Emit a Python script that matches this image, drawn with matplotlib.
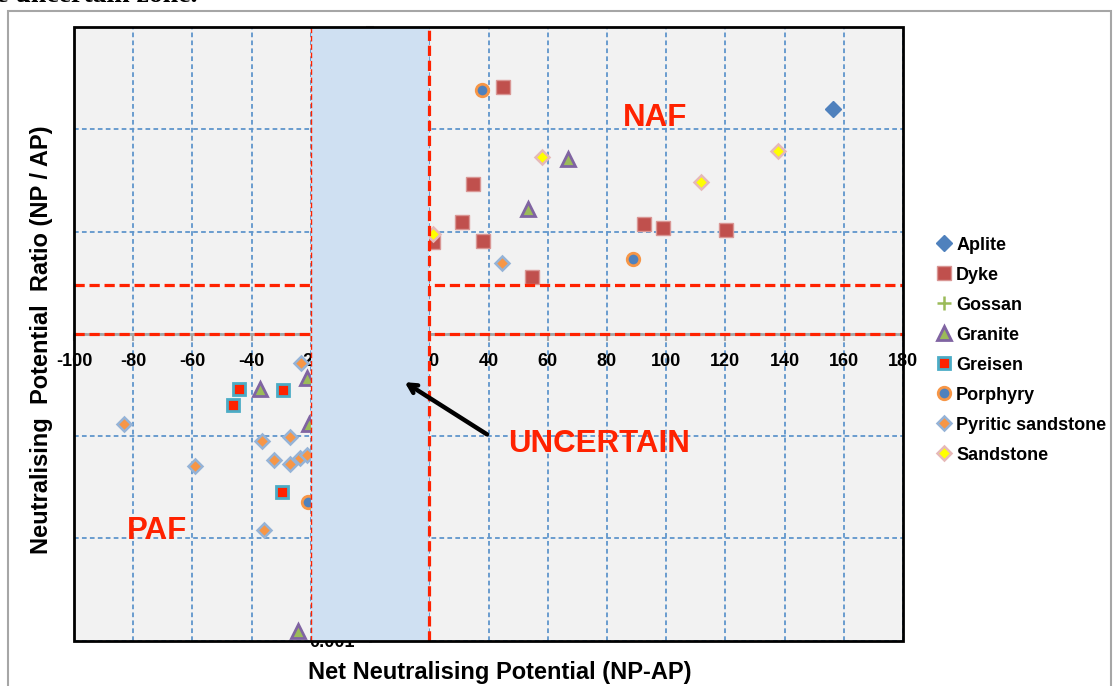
import matplotlib
matplotlib.use('Agg')
import matplotlib.pyplot as plt
from matplotlib.patches import Rectangle
from matplotlib.lines import Line2D
from matplotlib.ticker import FixedLocator, FuncFormatter, NullLocator

plt.rcParams['font.family'] = ['Liberation Sans', 'DejaVu Sans']
plt.rcParams['font.weight'] = 'bold'
plt.rcParams['axes.labelweight'] = 'bold'
plt.rcParams['axes.unicode_minus'] = False

# ---------------- data ----------------
x_ticks = [-100, -80, -60, -40, -20, 0, 20, 40, 60, 80, 100, 120, 140, 160, 180]
y_ticks = [0.001, 0.01, 0.1, 1, 10, 100, 1000]

aplite_x = [156.5]
aplite_y = [158]

dyke_x = [44.9, 34.9, 31.1, 92.6, 98.9, 120.3, 21.1, 38.0, 54.7]
dyke_y = [257, 29, 12.3, 11.9, 10.9, 10.4, 7.9, 8.1, 3.57]

gossan_x = []
gossan_y = []

granite_x = [66.7, 53.3, -21.4, -37.3, -20.5, -24.2]
granite_y = [51.6, 16.8, 0.372, 0.286, 0.132, 0.00125]

greisen_x = [-44.2, -29.4, -46.4, -29.8]
greisen_y = [0.29, 0.28, 0.201, 0.0285]

porphyry_x = [37.7, 88.7, -20.9]
porphyry_y = [243, 5.43, 0.0225]

pyritic_x = [44.4, -23.4, -83.0, -27.0, -36.5, -59.2, -32.4, -27.0, -23.7, -21.4, -35.7]
pyritic_y = [4.89, 0.516, 0.131, 0.098, 0.0896, 0.0515, 0.058, 0.054, 0.061, 0.066, 0.0122]

sandstone_x = [58.0, 137.8, 111.7, 21.1]
sandstone_y = [53.3, 61, 30.6, 9.5]

npr_lines = [1, 3]
uncertain_lo, uncertain_hi = -20, 20

# ---------------- figure ----------------
W, H = 1118, 686
fig = plt.figure(figsize=(W / 100, H / 100), dpi=100)
fig.patch.set_facecolor('white')

L, R, T, B = 74, 903, 27, 640.7
ax = fig.add_axes([L / W, 1 - B / H, (R - L) / W, (B - T) / H])
ax.set_facecolor('#F2F2F2')
ax.set_xlim(-100, 180)
ax.set_yscale('log')
ax.set_ylim(0.001, 1000)
ax.set_axisbelow(True)

ax.xaxis.set_major_locator(FixedLocator(x_ticks))
ax.yaxis.set_major_locator(FixedLocator(y_ticks))
ax.yaxis.set_minor_locator(NullLocator())
ax.yaxis.set_major_formatter(FuncFormatter(lambda v, p: '' if v >= 1000 else f'{v:g}'))

grid_kw = dict(color='#5F96CC', linestyle=(0, (2.6, 1.8)), linewidth=1.3)
ax.grid(True, which='major', **grid_kw)

for s in ['top', 'right']:
    ax.spines[s].set_visible(False)
ax.spines['bottom'].set_position(('data', 1))
ax.spines['left'].set_position(('data', 0))
ax.spines['bottom'].set_color('#A6A6A6')
ax.spines['left'].set_color('#A6A6A6')
ax.spines['bottom'].set_linewidth(2)
ax.spines['left'].set_linewidth(2)

ax.tick_params(axis='x', direction='out', length=5, width=1.5, color='#A6A6A6',
               labelsize=13, pad=9)
ax.tick_params(axis='y', direction='inout', length=6, width=1.5, color='#A6A6A6',
               labelsize=13, pad=8)

# series
styles = [
    ('Aplite', aplite_x, aplite_y, dict(marker='D', ms=8, mfc='#4F81BD', mec='#4F81BD', mew=1)),
    ('Dyke', dyke_x, dyke_y, dict(marker='s', ms=9.5, mfc='#C0504D', mec='#D99694', mew=1)),
    ('Gossan', gossan_x, gossan_y, dict(marker='+', ms=10, mfc='#9BBB59', mec='#9BBB59', mew=1.8)),
    ('Granite', granite_x, granite_y, dict(marker='^', ms=9.5, mfc='#9BBB59', mec='#8064A2', mew=2)),
    ('Greisen', greisen_x, greisen_y, dict(marker='s', ms=9, mfc='#FF2200', mec='#4BACC6', mew=2)),
    ('Porphyry', porphyry_x, porphyry_y, dict(marker='o', ms=9, mfc='#4F81BD', mec='#F79646', mew=2)),
    ('Pyritic sandstone', pyritic_x, pyritic_y, dict(marker='D', ms=7.5, mfc='#F79646', mec='#95B3D7', mew=1.8)),
    ('Sandstone', sandstone_x, sandstone_y, dict(marker='D', ms=7.5, mfc='#FFFF00', mec='#E6B9B8', mew=1.8)),
]
handles = []
for name, xs, ys, kw in styles:
    ax.plot(xs, ys, linestyle='none', zorder=3, **kw)
    handles.append(Line2D([], [], linestyle='none', label=name, **kw))

red = '#FF2200'
for yv in npr_lines:
    ax.axhline(yv, color=red, lw=2.3, linestyle=(0, (3.2, 1.5)), zorder=3.5)

# uncertain zone
ax.axvspan(uncertain_lo, uncertain_hi, color='#CFE0F2', zorder=4, lw=0)
ax.axvline(uncertain_lo, color=red, lw=1, linestyle=(0, (4, 2)), zorder=5)
ax.axvline(uncertain_hi, color=red, lw=2.3, linestyle=(0, (3.2, 1.5)), zorder=5)

# labels in plot
ax.text(96.3, 130, 'NAF', color=red, fontsize=22.5, ha='center', va='center', zorder=6)
ax.text(-72, 0.0119, 'PAF', color=red, fontsize=22.5, ha='center', va='center', zorder=6)
ax.text(77.5, 0.0845, 'UNCERTAIN', color=red, fontsize=22.5, ha='center', va='center', zorder=6)
ax.annotate('', xy=(11.7, 0.337), xytext=(39.5, 0.104),
            arrowprops=dict(arrowstyle='->,head_length=0.6,head_width=0.32',
                            color='black', lw=3.2, shrinkA=0, shrinkB=0), zorder=6)

# frame
ax.add_patch(Rectangle((0, 0), 1, 1, transform=ax.transAxes, fill=False,
                       ec='black', lw=2, clip_on=False, zorder=7))

# axis titles
ax.set_xlabel('Net Neutralising Potential (NP-AP)', fontsize=17, fontweight='bold')
ax.xaxis.set_label_coords((500 - L) / (R - L), -(673 - B) / (B - T))
ax.xaxis.label.set_va('center')
ax.set_ylabel('Neutralising  Potential  Ratio (NP / AP)', fontsize=17, fontweight='bold')
ax.yaxis.set_label_coords((42 - L) / (R - L), (B - 340) / (B - T))
ax.yaxis.label.set_va('center')

# legend
fig.legend(handles=handles, loc='center left', bbox_to_anchor=(938 / W, 1 - 350 / H),
           frameon=False, fontsize=13, handlelength=0.7, handletextpad=0.3,
           labelspacing=0.72, borderpad=0, borderaxespad=0)

# outer border and clipped document text
fig.add_artist(Rectangle((8 / W, -0.05), (1111 - 8) / W, 1.05 - 10.7 / H,
                         transform=fig.transFigure, fill=False, ec='#A6A6A6', lw=1.5))
fig.text(-4 / W, 1 - 2 / H, 'e uncertain zone.', fontsize=20, va='baseline', ha='left',
         family=['Liberation Serif', 'DejaVu Serif'], fontweight='bold')

fig.savefig('out.png', dpi=100)
